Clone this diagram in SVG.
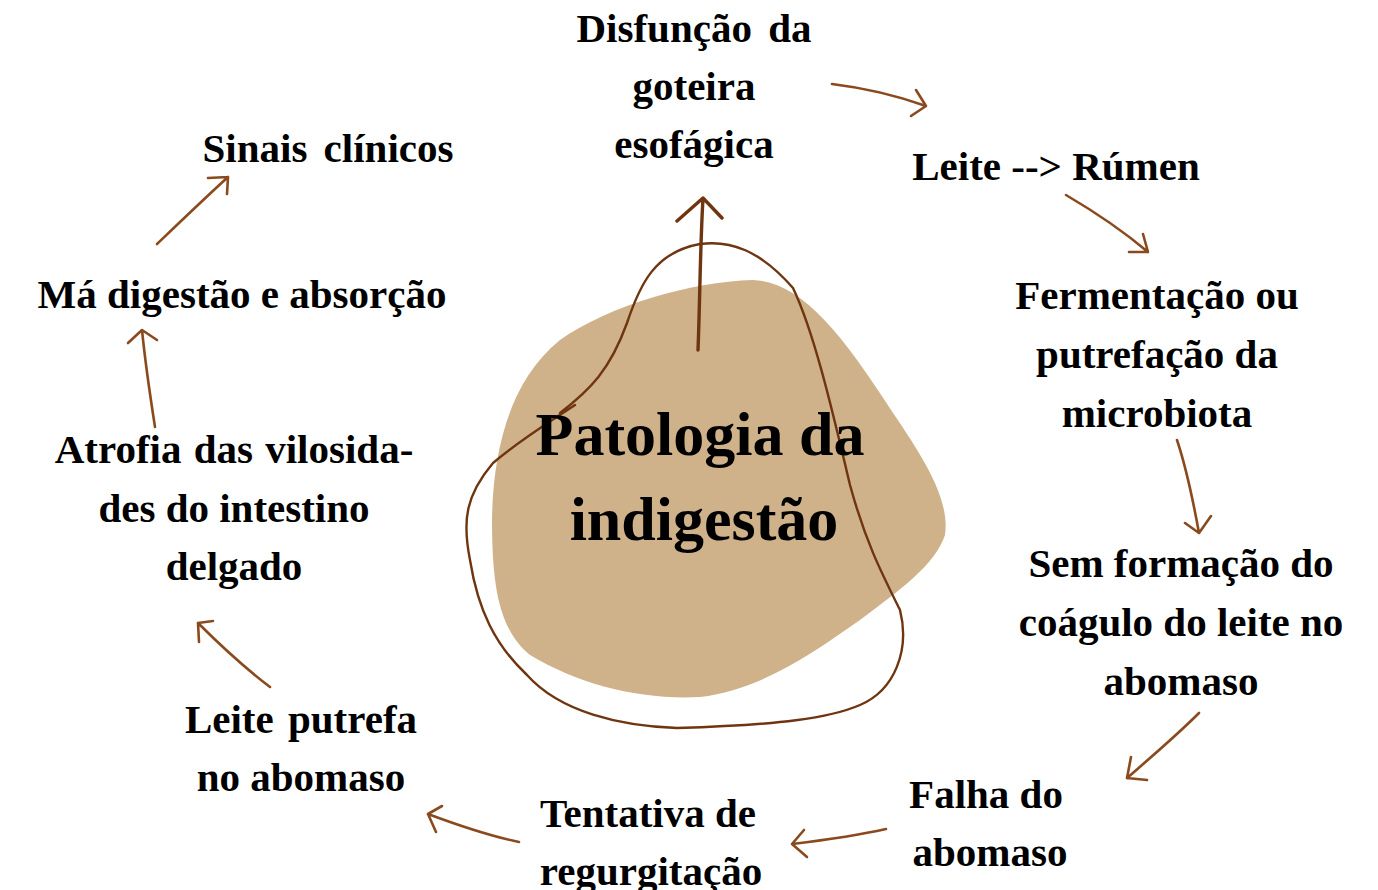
<svg xmlns="http://www.w3.org/2000/svg" width="1378" height="890" viewBox="0 0 1378 890">
<style>
.t{font-family:"Liberation Serif","Times New Roman",serif;font-weight:bold;font-size:41px;fill:#000;text-anchor:middle}
.c{font-size:62px}
.a{fill:none;stroke:#8A4A1E;stroke-width:2.6;stroke-linecap:round;stroke-linejoin:round}
.d{fill:none;stroke:#6E3510;stroke-width:2.4;stroke-linecap:round;stroke-linejoin:round}
.m{stroke-width:3.4}
</style>
<rect width="1378" height="890" fill="#fff"/>
<g id="center">
<path d="M753,280 C800,282 840,330 893,413 C925,460 950,500 945,535 C935,565 900,590 860,620 C810,655 760,690 700,697 C640,700 580,685 530,655 C500,630 492,590 492,520 C493,450 510,380 560,340 C610,305 690,282 753,280 Z" fill="#CFB28A"/>
<path class="d" d="M560,413 C590,390 610,370 627,323 C640,284 655,252 700,244 C730,240 760,250 793,288 C813,330 830,400 850,485 C865,540 880,570 900,610 C910,650 895,690 860,705 C830,718 780,725 677,728 C620,726 560,712 527,675 C495,645 478,610 470,560 C462,520 466,495 493,463 C520,440 545,425 575,405"/>
<text class="t c" x="700" y="455">Patologia da</text>
<text class="t c" x="704" y="540">indigestão</text>
</g>
<g id="connectors">
<path class="d m" d="M698,350 C700,300 700,250 703,198 M677,221 L703,198 L722,218"/>
<path class="a" d="M832,84 C865,88 895,95 926,106 M916,90 L926,106 L911,116"/>
<path class="a" d="M1066,195 C1095,212 1122,230 1148,252 M1143,234 L1148,252 L1129,252"/>
<path class="a" d="M1177,440 C1187,470 1193,500 1199,533 M1185,523 L1199,533 L1211,516"/>
<path class="a" d="M1199,713 C1175,737 1150,758 1127,778 M1131,757 L1127,778 L1147,780"/>
<path class="a" d="M886,829 C855,836 825,840 792,844 M804,830 L792,844 L807,857"/>
<path class="a" d="M519,842 C490,836 460,826 428,814 M442,806 L428,814 L436,832"/>
<path class="a" d="M270,687 C245,668 220,645 198,623 M213,621 L198,623 L199,642"/>
<path class="a" d="M155,427 C150,395 145,360 142,330 M128,343 L142,330 L157,340"/>
<path class="a" d="M157,244 C180,222 205,198 228,177 M208,178 L228,177 L227,194"/>
</g>
<g id="n-disfuncao">
<text class="t" x="694" y="42" word-spacing="6">Disfunção da</text>
<text class="t" x="694" y="100">goteira</text>
<text class="t" x="694" y="158">esofágica</text>
</g>
<g id="n-leite-rumen"><text class="t" x="1056" y="180">Leite --&gt; Rúmen</text></g>
<g id="n-fermentacao">
<text class="t" x="1157" y="309">Fermentação ou</text>
<text class="t" x="1157" y="368">putrefação da</text>
<text class="t" x="1157" y="427">microbiota</text>
</g>
<g id="n-sem-formacao">
<text class="t" x="1181" y="577">Sem formação do</text>
<text class="t" x="1181" y="636">coágulo do leite no</text>
<text class="t" x="1181" y="695">abomaso</text>
</g>
<g id="n-falha">
<text class="t" x="986" y="808">Falha do</text>
<text class="t" x="990" y="866">abomaso</text>
</g>
<g id="n-tentativa">
<text class="t" x="648" y="827">Tentativa de</text>
<text class="t" x="651" y="885">regurgitação</text>
</g>
<g id="n-leite-putrefa">
<text class="t" x="301" y="733" word-spacing="4">Leite putrefa</text>
<text class="t" x="301" y="791">no abomaso</text>
</g>
<g id="n-atrofia">
<text class="t" x="234" y="463" word-spacing="2">Atrofia das vilosida-</text>
<text class="t" x="234" y="522">des do intestino</text>
<text class="t" x="234" y="580">delgado</text>
</g>
<g id="n-ma-digestao"><text class="t" x="242" y="308">Má digestão e absorção</text></g>
<g id="n-sinais"><text class="t" x="328" y="162" word-spacing="6">Sinais clínicos</text></g>
</svg>
